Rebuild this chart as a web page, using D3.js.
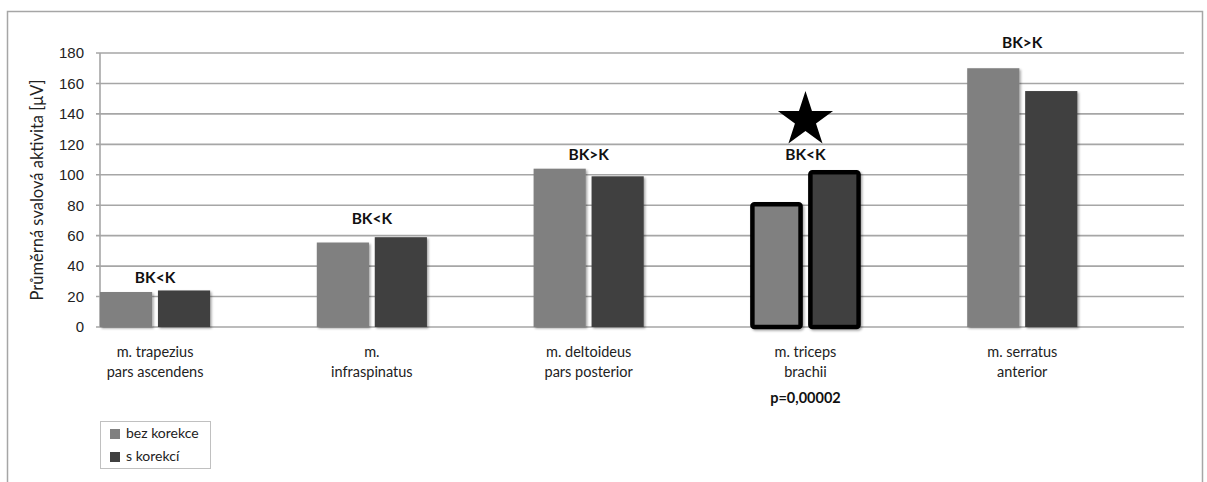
<!DOCTYPE html>
<html>
<head>
<meta charset="utf-8">
<script src="https://cdn.jsdelivr.net/npm/d3@7"></script>
<style>
  body { margin: 0; background: #fff; }
  svg { display: block; font-family: Lato, "Open Sans", sans-serif; }
</style>
</head>
<body>
<script>
// data
var muscles = [
  ["m. trapezius", "pars ascendens"],
  ["m.", "infraspinatus"],
  ["m. deltoideus", "pars posterior"],
  ["m. triceps", "brachii"],
  ["m. serratus", "anterior"]
];
var seriesNames = ["bez korekce", "s korekcí"];
var bezKorekce = [23, 55.5, 104, 82, 170];
var sKorekci = [24, 59, 99, 103, 155];
var compareLabels = ["BK<K", "BK<K", "BK>K", "BK<K", "BK>K"];
var compareLevel = [28.6, 67.4, 109.5, 109.5, 183];
var significant = [false, false, false, true, false];
var pValues = ["", "", "", "p=0,00002", ""];
var starLevel = 136;
var yTicks = [0, 20, 40, 60, 80, 100, 120, 140, 160, 180];
var seriesColors = ["#808080", "#404040"];

// layout
var margin = { top: 53, right: 23, bottom: 155, left: 100 },
    W = 1207, H = 482,
    width = W - margin.left - margin.right,
    height = H - margin.top - margin.bottom;

var svg = d3.select("body").append("svg")
    .attr("width", W)
    .attr("height", H);

// shadow filter
var defs = svg.append("defs");
var f = defs.append("filter").attr("id", "shadow")
    .attr("x", "-10%").attr("y", "-10%").attr("width", "130%").attr("height", "130%");
f.append("feDropShadow").attr("dx", 1.5).attr("dy", 1.5)
    .attr("stdDeviation", 1.2).attr("flood-color", "#000").attr("flood-opacity", 0.35);

// outer frame
svg.append("rect")
    .attr("x", 7.5).attr("y", 11.5)
    .attr("width", 1195).attr("height", 490)
    .attr("fill", "none")
    .attr("stroke", "#a6a6a6")
    .attr("stroke-width", 1.5);

var chart = svg.append("g")
    .attr("transform", "translate(" + margin.left + "," + margin.top + ")");

var x0 = d3.scaleBand()
    .domain(d3.range(muscles.length))
    .range([0, width])
    .paddingInner(0).paddingOuter(0);

var groupW = x0.bandwidth() * 0.508;
var x1 = d3.scaleBand()
    .domain([0, 1])
    .range([0, groupW])
    .paddingInner(0.1).paddingOuter(0);

var y = d3.scaleLinear()
    .domain([0, 180])
    .range([height, 0]);

// gridlines
chart.append("g")
    .selectAll("line")
    .data(yTicks)
    .enter()
    .append("line")
    .attr("x1", -4)
    .attr("x2", width)
    .attr("y1", function (d) { return y(d); })
    .attr("y2", function (d) { return y(d); })
    .attr("stroke", "#a6a6a6")
    .attr("stroke-width", 1.6);

// y axis line
chart.append("line")
    .attr("x1", 0).attr("x2", 0)
    .attr("y1", 0).attr("y2", height)
    .attr("stroke", "#a6a6a6")
    .attr("stroke-width", 1.6);

// y axis labels
var yAxis = d3.axisLeft(y).tickValues(yTicks).tickSize(0).tickPadding(16);
var ya = chart.append("g").call(yAxis);
ya.select(".domain").remove();
ya.selectAll("text")
    .attr("font-size", "15px")
    .attr("fill", "#222");

// y axis title
svg.append("text")
    .attr("transform", "translate(43," + (margin.top + height / 2) + ") rotate(-90)")
    .attr("text-anchor", "middle")
    .attr("font-size", "16.5px")
    .attr("fill", "#222")
    .text("Průměrná svalová aktivita [μV]");

// bars
var rows = muscles.map(function (m, i) {
  return { i: i, vals: [bezKorekce[i], sKorekci[i]] };
});

var groups = chart.selectAll(".grp")
    .data(rows)
    .enter()
    .append("g")
    .attr("class", "grp")
    .attr("transform", function (d) { return "translate(" + x0(d.i) + ",0)"; });

groups.selectAll("rect")
    .data(function (d) {
      return d.vals.map(function (v, s) { return { s: s, v: v, sig: significant[d.i] }; });
    })
    .enter()
    .append("rect")
    .attr("x", function (d) { return x1(d.s) + (d.sig ? 2 : 0); })
    .attr("width", function (d) { return x1.bandwidth() - (d.sig ? 4 : 0); })
    .attr("y", function (d) { return y(d.v) + (d.sig ? 2 : 0); })
    .attr("height", function (d) { return height - y(d.v) - (d.sig ? 2 : 0); })
    .attr("rx", function (d) { return d.sig ? 2 : 0; })
    .attr("fill", function (d) { return seriesColors[d.s]; })
    .attr("stroke", function (d) { return d.sig ? "#000" : "none"; })
    .attr("stroke-width", 4.5)
    .attr("filter", "url(#shadow)");

// comparison labels
groups.append("text")
    .attr("x", groupW / 2)
    .attr("y", function (d) { return y(compareLevel[d.i]); })
    .attr("text-anchor", "middle")
    .attr("font-size", "15.5px")
    .attr("font-weight", "bold")
    .attr("fill", "#111")
    .text(function (d) { return compareLabels[d.i]; });

// star for significant
groups.filter(function (d) { return significant[d.i]; })
    .append("path")
    .attr("d", d3.symbol().type(d3.symbolStar).size(944))
    .attr("transform", "translate(" + (groupW / 2) + "," + y(starLevel) + ")")
    .attr("fill", "#000");

// category labels
groups.each(function (d) {
  var g = d3.select(this);
  muscles[d.i].forEach(function (line, k) {
    g.append("text")
      .attr("x", groupW / 2)
      .attr("y", height + 30 + k * 20)
      .attr("text-anchor", "middle")
      .attr("font-size", "14.5px")
      .attr("fill", "#222")
      .text(line);
  });
  if (pValues[d.i]) {
    g.append("text")
      .attr("x", groupW / 2)
      .attr("y", height + 75.5)
      .attr("text-anchor", "middle")
      .attr("font-size", "14.5px")
      .attr("font-weight", "bold")
      .attr("fill", "#111")
      .text(pValues[d.i]);
  }
});

// legend
var legend = svg.append("g").attr("transform", "translate(100,421)");
legend.append("rect")
    .attr("x", 0.5).attr("y", 0.5)
    .attr("width", 110).attr("height", 47)
    .attr("fill", "#fff")
    .attr("stroke", "#c0c0c0")
    .attr("stroke-width", 1);

var items = legend.selectAll(".item")
    .data(seriesNames)
    .enter()
    .append("g")
    .attr("class", "item")
    .attr("transform", function (d, i) { return "translate(10," + (8 + i * 23) + ")"; });

items.append("rect")
    .attr("width", 10).attr("height", 10)
    .attr("fill", function (d, i) { return seriesColors[i]; });

items.append("text")
    .attr("x", 16)
    .attr("y", 8.5)
    .attr("font-size", "14px")
    .attr("fill", "#222")
    .text(function (d) { return d; });
</script>
</body>
</html>
